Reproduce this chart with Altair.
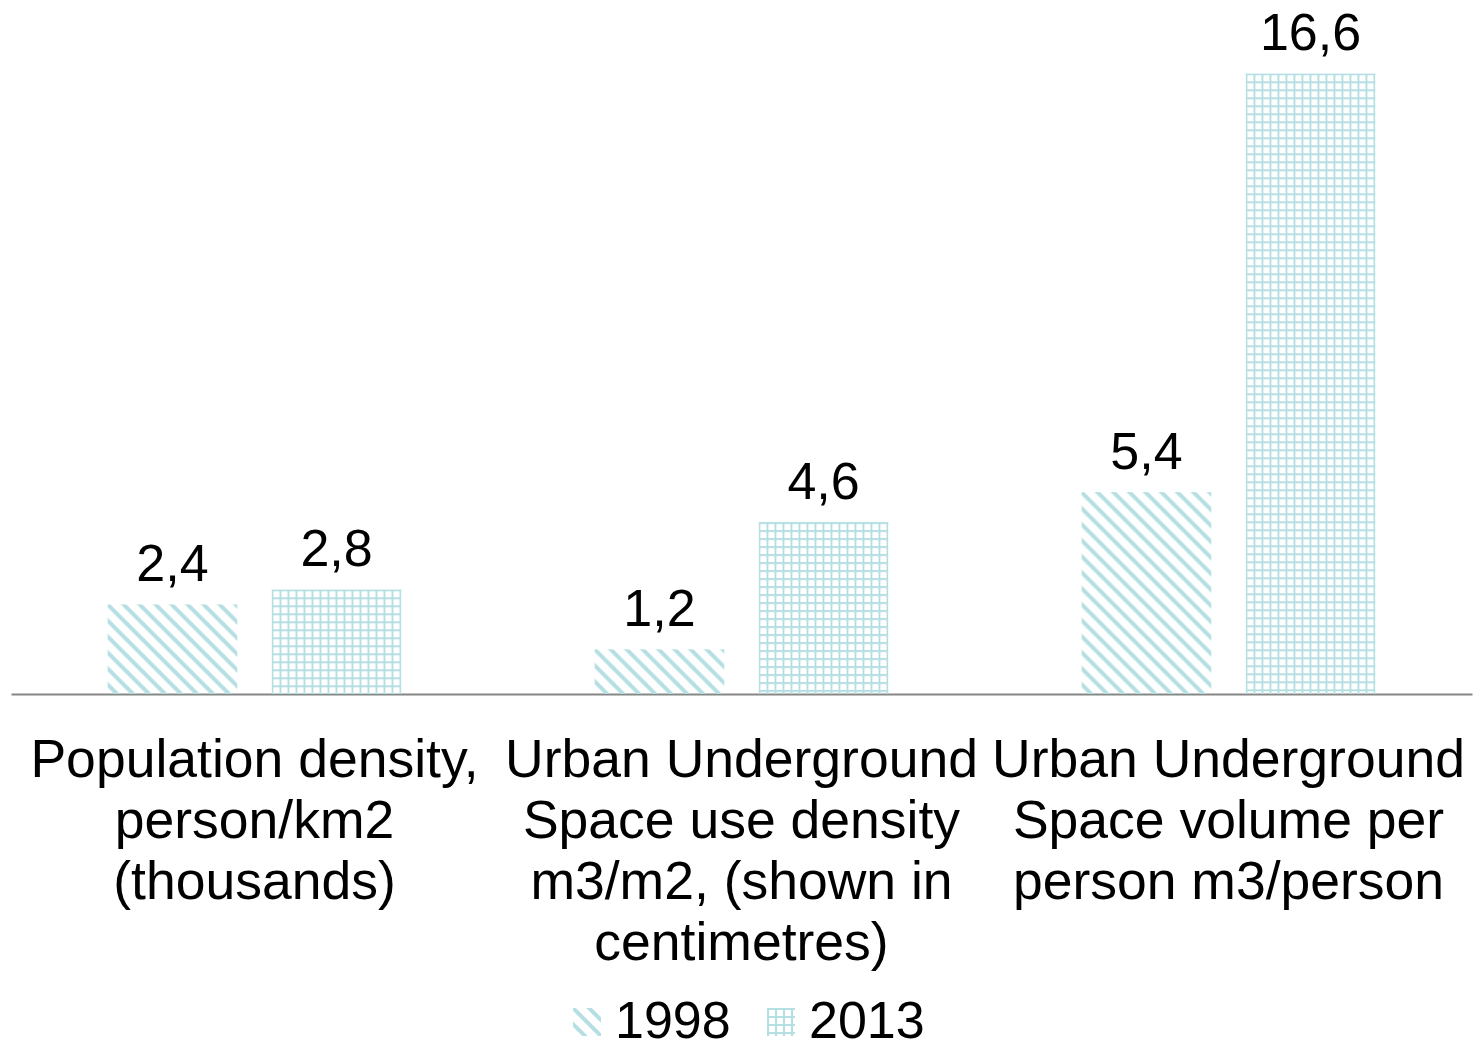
import urllib.parse
import altair as alt
import pandas as pd

# ---- data ----
categories = [
    "Population density,\nperson/km2\n(thousands)",
    "Urban Underground\nSpace use density\nm3/m2, (shown in\ncentimetres)",
    "Urban Underground\nSpace volume per\nperson m3/person",
]
years = ["1998", "2013"]
values_1998 = [2.4, 1.2, 5.4]
values_2013 = [2.8, 4.6, 16.6]

rows = []
for cat, v98, v13 in zip(categories, values_1998, values_2013):
    rows.append({"category": cat, "year": years[0], "value": v98})
    rows.append({"category": cat, "year": years[1], "value": v13})
df = pd.DataFrame(rows)

# ---- styles ----
TEAL = "#b5dfe3"
FONT = "Liberation Sans"


def svg_uri(svg):
    return "data:image/svg+xml;charset=utf-8," + urllib.parse.quote(svg, safe="")


diag_svg = (
    '<svg xmlns="http://www.w3.org/2000/svg" width="100%" height="100%">'
    '<defs><pattern id="p" width="16" height="16" patternUnits="userSpaceOnUse">'
    f'<path d="M-4,-4L20,20M-4,12L4,20M12,-4L20,4" stroke="{TEAL}" stroke-width="4" fill="none"/>'
    "</pattern></defs>"
    '<rect width="100%" height="100%" fill="url(#p)"/></svg>'
)
grid_svg = (
    '<svg xmlns="http://www.w3.org/2000/svg" width="100%" height="100%">'
    '<defs><pattern id="p" width="8" height="8" patternUnits="userSpaceOnUse">'
    f'<rect x="0" y="0" width="2" height="8" fill="{TEAL}"/>'
    f'<rect x="0" y="0" width="8" height="2" fill="{TEAL}"/>'
    "</pattern></defs>"
    '<rect width="100%" height="100%" fill="url(#p)"/></svg>'
)
DIAG_URI = svg_uri(diag_svg)
GRID_URI = svg_uri(grid_svg)


# legend symbol shapes (unit square [-1, 1])
def clip(poly, a, b, c):
    out = []
    n = len(poly)
    for i in range(n):
        p, q = poly[i], poly[(i + 1) % n]
        fp = a * p[0] + b * p[1] - c
        fq = a * q[0] + b * q[1] - c
        if fp <= 0:
            out.append(p)
        if (fp < 0 < fq) or (fq < 0 < fp):
            t = fp / (fp - fq)
            out.append((p[0] + t * (q[0] - p[0]), p[1] + t * (q[1] - p[1])))
    return out


def poly_path(poly):
    pts = "L".join(f"{x:.3f},{y:.3f}" for x, y in poly)
    return "M" + pts + "Z"


square = [(-1, -1), (1, -1), (1, 1), (-1, 1)]
diag_parts = []
for centre in (-2.28, -1.14, 0.0, 1.14, 2.28):
    c0, c1 = centre - 0.2, centre + 0.2
    poly = clip(square, 1, -1, c1)
    poly = clip(poly, -1, 1, -c0) if poly else poly
    if len(poly) >= 3:
        diag_parts.append(poly_path(poly))
DIAG_SHAPE = " ".join(diag_parts)

grid_parts = []
for pos in (-1.0, -0.43, 0.14, 0.71):
    grid_parts.append(poly_path([(pos, -1), (pos + 0.15, -1), (pos + 0.15, 1), (pos, 1)]))
    grid_parts.append(poly_path([(-1, pos), (1, pos), (1, pos + 0.15), (-1, pos + 0.15)]))
GRID_SHAPE = " ".join(grid_parts)

# ---- encodings ----
x_enc = alt.X(
    "category:N",
    sort=categories,
    scale=alt.Scale(paddingInner=0.396, paddingOuter=0.198),
    axis=alt.Axis(
        title=None,
        labelAngle=0,
        labelFont=FONT,
        labelFontSize=53.5,
        labelColor="black",
        labelLineHeight=61,
        labelPadding=40,
        labelLimit=2000,
        labelExpr="split(datum.label, '\\n')",
        ticks=False,
        tickSize=0,
        domainColor="#868686",
        domainWidth=2,
        grid=False,
    ),
)
xoff_enc = alt.XOffset("year:N", sort=years, scale=alt.Scale(paddingInner=0.207, paddingOuter=0))
y_enc = alt.Y("value:Q", scale=alt.Scale(domain=[0, 18]), axis=None)

base = alt.Chart(df)

bars = base.mark_image(aspect=False).encode(
    x=x_enc,
    xOffset=xoff_enc,
    y=y_enc,
    url=alt.when(alt.datum.year == "1998").then(alt.value(DIAG_URI)).otherwise(alt.value(GRID_URI)),
)

labels = base.transform_calculate(
    label="replace(format(datum.value, '.1f'), '.', ',')"
).mark_text(
    font=FONT, fontSize=52, color="black", baseline="alphabetic", align="center", dy=-23
).encode(x=x_enc, xOffset=xoff_enc, y=y_enc, text="label:N")

legend = alt.Legend(
    title=None,
    orient="none",
    legendX=550,
    legendY=975,
    direction="horizontal",
    symbolSize=784,
    symbolStrokeWidth=0,
    symbolOpacity=1,
    labelFont=FONT,
    labelFontSize=52,
    labelColor="black",
    labelOffset=2,
    columnPadding=24,
    padding=0,
)

legend_pts = base.mark_point(filled=True, opacity=0).encode(
    x=x_enc,
    xOffset=xoff_enc,
    y=y_enc,
    color=alt.Color("year:N", sort=years, scale=alt.Scale(domain=years, range=[TEAL, TEAL]), legend=legend),
    shape=alt.Shape("year:N", sort=years, scale=alt.Scale(domain=years, range=[DIAG_SHAPE, GRID_SHAPE]), legend=legend),
)

chart = (
    alt.layer(bars, labels, legend_pts)
    .properties(
        width=1461,
        height=673,
        autosize="none",
        padding={"left": 11, "top": 21, "right": 4, "bottom": 353},
        background="white",
    )
    .configure(font=FONT)
    .configure_view(stroke=None)
)

chart.save("out.html", embed_options={"renderer": "svg", "actions": False})
